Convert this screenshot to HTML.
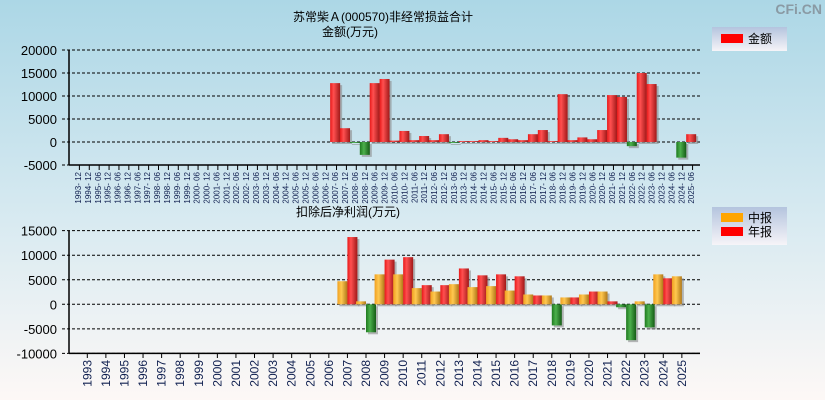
<!DOCTYPE html>
<html><head><meta charset="utf-8">
<style>
html,body{margin:0;padding:0;}
body{width:825px;height:400px;overflow:hidden;font-family:"Liberation Sans","Noto Sans CJK SC",sans-serif;}
svg text{font-family:"Liberation Sans","Noto Sans CJK SC",sans-serif;}
</style></head>
<body>
<svg id="chart" width="825" height="400" xmlns="http://www.w3.org/2000/svg">
<defs>
<linearGradient id="bg" x1="0" y1="0" x2="0" y2="1">
<stop offset="0" stop-color="#acd7e6"/><stop offset="0.55" stop-color="#d8eaf1"/><stop offset="1" stop-color="#fdf8f6"/></linearGradient>
<linearGradient id="gRed" x1="0" y1="0" x2="1" y2="0">
<stop offset="0" stop-color="#e81818"/><stop offset="0.35" stop-color="#ff5050"/><stop offset="1" stop-color="#a01818"/></linearGradient>
<linearGradient id="gGreen" x1="0" y1="0" x2="1" y2="0">
<stop offset="0" stop-color="#1e7a1e"/><stop offset="0.4" stop-color="#4cb04c"/><stop offset="1" stop-color="#155c15"/></linearGradient>
<linearGradient id="gOrange" x1="0" y1="0" x2="1" y2="0">
<stop offset="0" stop-color="#f0a020"/><stop offset="0.4" stop-color="#ffc850"/><stop offset="1" stop-color="#b07818"/></linearGradient>
<linearGradient id="gLeg" x1="0" y1="0" x2="0" y2="1">
<stop offset="0" stop-color="#b4c4de"/><stop offset="1" stop-color="#f6f4f8"/></linearGradient>
</defs>
<rect x="0" y="0" width="825" height="400" fill="url(#bg)"/>
<text x="822" y="14" text-anchor="end" font-size="14" font-weight="bold" fill="#8a9aa4">CFi.CN</text>
<text x="383" y="21" text-anchor="middle" font-size="12" fill="#000">苏常柴Ａ(000570)非经常损益合计</text>
<text x="322" y="36" font-size="12" fill="#000">金额(万元)</text>
<text x="296" y="216" font-size="12" fill="#000">扣除后净利润(万元)</text>
<g>
<rect x="712" y="27" width="75" height="24" fill="url(#gLeg)"/>
<rect x="721" y="34" width="22" height="9" fill="#ff0000"/>
<text x="748" y="43" font-size="12" fill="#000">金额</text></g>
<g>
<rect x="712" y="207" width="75" height="38" fill="url(#gLeg)"/>
<rect x="721" y="213" width="22" height="9" fill="#ffa500"/>
<text x="748" y="222" font-size="12" fill="#000">中报</text>
<rect x="721" y="227" width="22" height="9" fill="#ff0000"/>
<text x="748" y="236" font-size="12" fill="#000">年报</text></g>
<g id="top"></g><g id="bot"></g>
</svg>
<script>
const topCats=["1993-12","1994-12"];
for(let y=1995;y<=2025;y++){topCats.push(y+"-06");if(y<2025)topCats.push(y+"-12");}
const topVals={"2007-06":12800,"2007-12":3000,"2008-06":-200,"2008-12":-2800,"2009-06":12800,"2009-12":13700,"2010-06":300,"2010-12":2400,"2011-06":400,"2011-12":1300,"2012-06":400,"2012-12":1700,"2013-06":-200,"2013-12":200,"2014-06":200,"2014-12":400,"2015-06":200,"2015-12":900,"2016-06":600,"2016-12":400,"2017-06":1700,"2017-12":2600,"2018-06":200,"2018-12":10400,"2019-06":400,"2019-12":1000,"2020-06":600,"2020-12":2600,"2021-06":10200,"2021-12":9800,"2022-06":-900,"2022-12":15000,"2023-06":12600,"2023-12":0,"2024-06":0,"2024-12":-3400,"2025-06":1700};
const topTicks=[20000,15000,10000,5000,0,-5000];
const botYears=[];for(let y=1993;y<=2025;y++)botYears.push(y);
const botMid={2007:4700,2008:600,2009:6100,2010:6100,2011:3300,2012:2600,2013:4100,2014:3500,2015:3700,2016:2800,2017:2000,2018:1800,2019:1400,2020:2000,2021:2600,2022:-600,2023:600,2024:6100,2025:5700};
const botAnn={2007:13700,2008:-5700,2009:9100,2010:9600,2011:3900,2012:3900,2013:7300,2014:5900,2015:6100,2016:5700,2017:1800,2018:-4300,2019:1400,2020:2600,2021:600,2022:-7300,2023:-4700,2024:5300};
const botTicks=[15000,10000,5000,0,-5000,-10000];

const NS="http://www.w3.org/2000/svg";
function mk(p,t,a){const e=document.createElementNS(NS,t);for(const k in a)e.setAttribute(k,a[k]);p.appendChild(e);return e;}
function grid(g,ticks,yf,x0,x1,name){
  ticks.forEach(v=>{const y=yf(v);
    const l=mk(g,"line",{x1:x0-7,x2:x1,y1:y,y2:y,stroke:"#000","stroke-dasharray":"3,2","stroke-width":1});
    
    const t=mk(g,"text",{x:x0-12,y:y+5,"text-anchor":"end","font-size":13,fill:"#000"});t.textContent=v;
    
  });
  const a=mk(g,"line",{x1:x0,x2:x0,y1:yf(ticks[0]),y2:yf(ticks[ticks.length-1]),stroke:"#000","stroke-width":1.5});
  
  const b=mk(g,"line",{x1:x0,x2:x1,y1:yf(ticks[ticks.length-1]),y2:yf(ticks[ticks.length-1]),stroke:"#000","stroke-width":1.5});
  
}
function bar(g,x,w,v,yf,fill,name){
  const y0=yf(0),y1=yf(v);const top=Math.min(y0,y1),h=Math.max(Math.abs(y1-y0),0.8);
  const s=mk(g,"rect",{x:x+2,y:top+2,width:w,height:h,fill:"#8a8a8a",opacity:0.6});
  
  const r=mk(g,"rect",{x:x,y:top,width:w,height:h,fill:v<0?"url(#gGreen)":fill});
  
}
// top chart
const tg=document.getElementById("top");
const tY=v=>142-v*0.0046;
const tX=i=>73+9.89*i;
grid(tg,topTicks,tY,69,700,"top");
topCats.forEach((c,i)=>{
  const tx=69+9.89*(i+1)+0.5;
  const tk=mk(tg,"line",{x1:tx,x2:tx,y1:165,y2:170,stroke:"#000"});
  
  const lx=tX(i)+8;
  const t=mk(tg,"text",{x:0,y:0,transform:`translate(${lx},${172}) rotate(-90)`,"text-anchor":"end","font-size":8,fill:"#102050"});
  t.textContent=c.replace("-","- ");
  
  if(topVals[c]!==undefined&&topVals[c]!==0)bar(tg,tX(i),10,topVals[c],tY,"url(#gRed)","bar-"+c);
});
// bottom chart
const bg=document.getElementById("bot");
const bY=v=>304.3-v*0.00491;
const bX=i=>87.3+18.58*i;
grid(bg,botTicks,bY,69,700,"bottom");
botYears.forEach((yr,i)=>{
  const cx=bX(i);
  const tk=mk(bg,"line",{x1:cx,x2:cx,y1:353,y2:358,stroke:"#000"});
  
  const t=mk(bg,"text",{x:0,y:0,transform:`translate(${cx+4},${360}) rotate(-90)`,"text-anchor":"end","font-size":12,fill:"#102050"});
  t.textContent=yr;
  
  if(botMid[yr]!==undefined)bar(bg,cx-10,10,botMid[yr],bY,"url(#gOrange)","bar-mid-"+yr);
  if(botAnn[yr]!==undefined)bar(bg,cx,10,botAnn[yr],bY,"url(#gRed)","bar-annual-"+yr);
});
</script>
</body></html>
